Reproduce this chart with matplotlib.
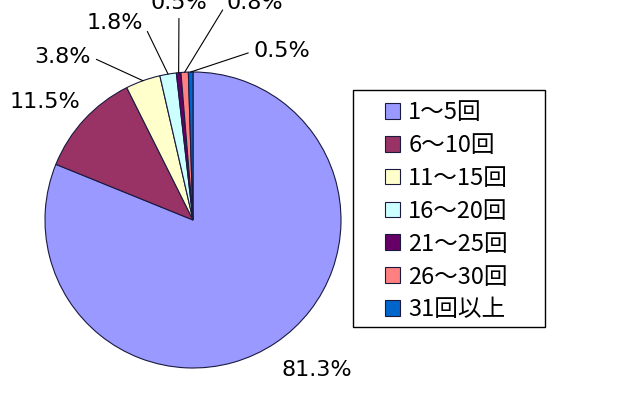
import matplotlib.pyplot as plt
from matplotlib.patches import Rectangle
import numpy as np

labels = ['1～5回', '6～10回', '11～15回', '16～20回', '21～25回', '26～30回', '31回以上']
shares = [81.3, 11.5, 3.8, 1.8, 0.5, 0.8, 0.5]
colors = ['#9999FF', '#993366', '#FFFFCC', '#CCFFFF', '#660066', '#FF8080', '#0066CC']

# label placement: (angle in deg, radius) per slice, like the hand-moved excel labels
LABEL_POS = [(-50.4, 1.315), (141.4, 1.28), (128.6, 1.41), (111.6, 1.43),
             (93.7, 1.47), (74.0, 1.525), (62.2, 1.29)]
# where the leader line meets the label text
LINE_REL = [None, None, (1.0, 0.5), (1.0, 0.5), (0.5, 0.0), (0.0, 0.5), (0.0, 0.5)]
PCT_FONT = ['DejaVu Sans']
CJK_FONT = ['Noto Sans CJK JP', 'DejaVu Sans']
W, H = 640, 400

fig = plt.figure(figsize=(6.4, 4.0), dpi=100)
ax = fig.add_axes([45 / W, 32 / H, 296 / W, 296 / H])
wedges, _ = ax.pie(shares, colors=colors, startangle=90, counterclock=False,
                   radius=1.0, wedgeprops=dict(edgecolor='#1a1a40', linewidth=0.8))
ax.set_xlim(-1, 1)
ax.set_ylim(-1, 1)
ax.set_aspect('auto')
ax.axis('off')

for i, (w, val) in enumerate(zip(wedges, shares)):
    mid = np.deg2rad((w.theta1 + w.theta2) / 2)
    ang, r = LABEL_POS[i]
    tx, ty = r * np.cos(np.deg2rad(ang)), r * np.sin(np.deg2rad(ang))
    txt = f'{val:.1f}%'
    if LINE_REL[i] is None:
        ax.text(tx, ty, txt, ha='center', va='center', fontsize=16,
                family=PCT_FONT, clip_on=False)
    else:
        ax.annotate(txt, xy=(np.cos(mid), np.sin(mid)), xytext=(tx, ty),
                    ha='center', va='center', fontsize=16, family=PCT_FONT,
                    annotation_clip=False,
                    arrowprops=dict(arrowstyle='-', color='black', lw=0.8,
                                    shrinkA=2, shrinkB=0, relpos=LINE_REL[i]))

# legend frame drawn separately, entries placed inside it
fig.patches.append(Rectangle((353 / W, 1 - 327 / H), 192 / W, 237 / H,
                             transform=fig.transFigure, facecolor='white',
                             edgecolor='black', linewidth=1.0, zorder=2))
leg = fig.legend(wedges, labels, loc='upper left',
                 bbox_to_anchor=(385 / W, 1 - 101 / H), bbox_transform=fig.transFigure,
                 prop={'family': CJK_FONT, 'size': 17}, frameon=False,
                 handlelength=0.65, handleheight=0.65, handletextpad=0.34,
                 labelspacing=0.42, borderpad=0, borderaxespad=0)
leg.set_zorder(3)

fig.savefig('out.png', dpi=100)
